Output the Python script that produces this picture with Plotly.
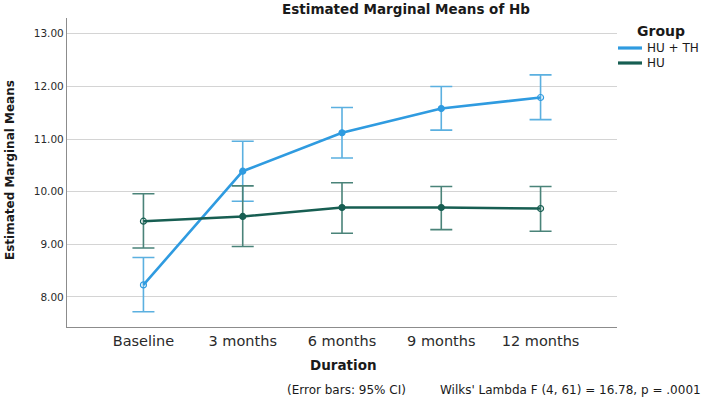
import plotly.graph_objects as go

categories = ["Baseline", "3 months", "6 months", "9 months", "12 months"]

hu_th_mean = [8.23, 10.39, 11.12, 11.58, 11.79]
hu_th_upper = [8.75, 10.96, 11.60, 12.00, 12.22]
hu_th_lower = [7.72, 9.82, 10.64, 11.17, 11.37]

hu_mean = [9.44, 9.53, 9.70, 9.70, 9.68]
hu_upper = [9.96, 10.11, 10.17, 10.10, 10.10]
hu_lower = [8.93, 8.96, 9.21, 9.28, 9.25]

y_ticks = [8, 9, 10, 11, 12, 13]
group_names = ["HU + TH", "HU"]

FONT = "DejaVu Sans"
BLUE = "#2f9be0"
BLUE_BAR = "#5bb0e0"
TEAL = "#175e52"
TEAL_BAR = "#4a8379"

symbols = ["circle-open", "circle", "circle", "circle", "circle-open"]

L, R, T, B = 67, 91, 18, 71
W, H = 708, 398
PW, PH = W - L - R, H - T - B


def px_x(x):
    return (x - L) / PW


def px_y(y):
    return (H - B - y) / PH


def make_trace(name, mean, upper, lower, color, bar_color):
    return go.Scatter(
        x=categories,
        y=mean,
        name=name,
        showlegend=False,
        mode="lines+markers",
        line=dict(color=color, width=2.6),
        marker=dict(size=6, color=color, symbol=symbols,
                    line=dict(color=color, width=1.2)),
        error_y=dict(
            type="data",
            symmetric=False,
            array=[u - m for u, m in zip(upper, mean)],
            arrayminus=[m - l for m, l in zip(mean, lower)],
            color=bar_color,
            thickness=1.6,
            width=11,
        ),
    )


fig = go.Figure()
fig.add_trace(make_trace(group_names[0], hu_th_mean, hu_th_upper, hu_th_lower, BLUE, BLUE_BAR))
fig.add_trace(make_trace(group_names[1], hu_mean, hu_upper, hu_lower, TEAL, TEAL_BAR))

# manual legend (lines + labels) to mimic SPSS layout
legend_rows = [48, 63]
legend_colors = [BLUE, TEAL]
shapes = []
annotations = []
for name, col, yy in zip(group_names, legend_colors, legend_rows):
    shapes.append(dict(type="line", xref="paper", yref="paper",
                       x0=px_x(618), x1=px_x(642), y0=px_y(yy), y1=px_y(yy),
                       line=dict(color=col, width=3.2)))
    annotations.append(dict(text=name, xref="paper", yref="paper",
                            x=px_x(645), y=px_y(yy), xanchor="left", yanchor="middle",
                            showarrow=False,
                            font=dict(size=12, family=FONT, color="#1a1a1a")))

annotations += [
    dict(text="<b>Group</b>", xref="paper", yref="paper",
         x=px_x(661), y=px_y(31),
         xanchor="center", yanchor="middle", showarrow=False,
         font=dict(size=14, family=FONT, color="#1a1a1a")),
    dict(text="<b>Estimated Marginal Means</b>", xref="paper", yref="paper",
         x=px_x(10), y=px_y(170), textangle=-90,
         xanchor="center", yanchor="middle", showarrow=False,
         font=dict(size=12, family=FONT, color="#1a1a1a")),
    dict(text="<b>Duration</b>", xref="paper", yref="paper",
         x=px_x(343), y=px_y(365),
         xanchor="center", yanchor="middle", showarrow=False,
         font=dict(size=13.5, family=FONT, color="#1a1a1a")),
    dict(text="(Error bars: 95% CI)", xref="paper", yref="paper",
         x=px_x(285), y=px_y(390),
         xanchor="left", yanchor="middle", showarrow=False,
         font=dict(size=12, family=FONT, color="#1a1a1a")),
    dict(text="Wilks' Lambda F (4, 61) = 16.78, p = .0001", xref="paper", yref="paper",
         x=px_x(438), y=px_y(390),
         xanchor="left", yanchor="middle", showarrow=False,
         font=dict(size=12, family=FONT, color="#1a1a1a")),
]

fig.update_layout(
    width=W,
    height=H,
    margin=dict(l=L, r=R, t=T, b=B),
    paper_bgcolor="white",
    plot_bgcolor="white",
    font=dict(family=FONT, color="#222222"),
    title=dict(
        text="<b>Estimated Marginal Means of Hb</b>",
        x=406 / W, xanchor="center",
        y=1 - 9 / H, yanchor="middle",
        font=dict(size=13.5, family=FONT, color="#1a1a1a"),
    ),
    xaxis=dict(
        type="category",
        range=[-0.77, 4.77],
        showgrid=False,
        showline=True,
        linecolor="#8c8c8c",
        linewidth=1.2,
        ticks="",
        tickfont=dict(size=14.5, family=FONT, color="#2a2a2a"),
        zeroline=False,
        fixedrange=True,
    ),
    yaxis=dict(
        range=[7.43, 13.3],
        tickvals=y_ticks,
        tickformat=".2f",
        showgrid=True,
        gridcolor="#d4d4d4",
        gridwidth=1,
        showline=True,
        linecolor="#8c8c8c",
        linewidth=1.2,
        ticks="",
        tickfont=dict(size=10.5, family=FONT, color="#2a2a2a"),
        zeroline=False,
    ),
    showlegend=False,
    shapes=shapes,
    annotations=annotations,
)

fig.write_html("out.html")
